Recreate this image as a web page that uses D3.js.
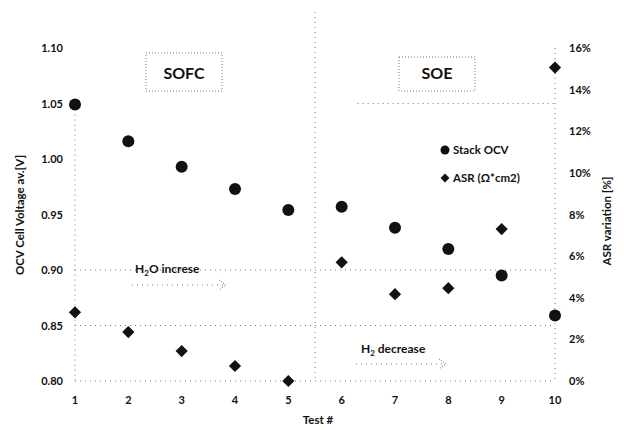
<!DOCTYPE html>
<html lang="en">
<head>
  <meta charset="UTF-8">
  <title>OCV and ASR per test</title>
  <script src="https://cdn.jsdelivr.net/npm/d3@7"></script>
  <style>
    * { margin: 0; padding: 0; box-sizing: border-box; }
    body { background: #fff; }
    svg { display: block; font-family: 'Lato', 'Open Sans', sans-serif; }
    .tick-label { font-size: 11px; fill: #111; font-weight: bold; }
    .axis-title { font-size: 11.5px; fill: #111; font-weight: bold; }
    .grid { stroke: #777; stroke-width: 1; stroke-dasharray: 1,4; fill: none; }
    .box { stroke: #777; stroke-width: 1; stroke-dasharray: 1,2; fill: none; }
    .mode { font-size: 16px; fill: #111; font-weight: bold; }
    .note { font-size: 12px; fill: #111; font-weight: bold; }
    .legend { font-size: 11.5px; fill: #111; font-weight: bold; }
  </style>
</head>
<body>
  <svg width="624" height="430"></svg>
  <script>
    // data
    var tests = [1, 2, 3, 4, 5, 6, 7, 8, 9, 10];
    var stackOcv = [1.049, 1.016, 0.993, 0.973, 0.954, 0.957, 0.938, 0.919, 0.895, 0.859];
    var asrVariation = [0.033, 0.0235, 0.0144, 0.0072, 0.0, 0.057, 0.0417, 0.0446, 0.073, 0.1506];
    var leftTicks = [0.80, 0.85, 0.90, 0.95, 1.00, 1.05, 1.10];
    var rightTicks = [0, 0.02, 0.04, 0.06, 0.08, 0.10, 0.12, 0.14, 0.16];
    var gridValues = [0.85, 0.90];

    var svg = d3.select("svg");
    var ink = "#111";

    var x = d3.scaleLinear().domain([1, 10]).range([75, 555]);
    var yL = d3.scaleLinear().domain([0.80, 1.10]).range([381, 48]);
    var yR = d3.scaleLinear().domain([0, 0.16]).range([381, 48]);

    // dotted frame + grid
    svg.selectAll(".hgrid").data(gridValues).enter().append("line")
      .attr("class", "grid")
      .attr("x1", x(1)).attr("x2", x(10))
      .attr("y1", d => yL(d)).attr("y2", d => yL(d));
    svg.append("line").attr("class", "grid")
      .attr("x1", x(6.3)).attr("x2", x(10)).attr("y1", yL(1.05)).attr("y2", yL(1.05));
    svg.append("line").attr("class", "grid")
      .attr("x1", x(1)).attr("x2", x(10)).attr("y1", yL(0.80)).attr("y2", yL(0.80));
    svg.append("line").attr("class", "grid")
      .attr("x1", x(1)).attr("x2", x(1)).attr("y1", yL(1.04)).attr("y2", yL(0.80));
    svg.append("line").attr("class", "grid")
      .attr("x1", x(10)).attr("x2", x(10)).attr("y1", yL(1.10)).attr("y2", yL(0.80));
    svg.append("line").attr("class", "grid")
      .attr("x1", x(5.5)).attr("x2", x(5.5)).attr("y1", 12).attr("y2", yL(0.80));

    // left axis labels
    svg.selectAll(".lt").data(leftTicks).enter().append("text")
      .attr("class", "tick-label")
      .attr("x", 63).attr("y", d => yL(d) + 4)
      .attr("text-anchor", "end")
      .text(d => d3.format(".2f")(d));

    // right axis labels
    svg.selectAll(".rt").data(rightTicks).enter().append("text")
      .attr("class", "tick-label")
      .attr("x", 569).attr("y", d => yR(d) + 4)
      .text(d => d3.format(".0%")(d));

    // x axis labels
    svg.selectAll(".xt").data(tests).enter().append("text")
      .attr("class", "tick-label")
      .attr("x", d => x(d)).attr("y", 404)
      .attr("text-anchor", "middle")
      .text(d => d);

    svg.append("text").attr("class", "axis-title")
      .attr("x", 318).attr("y", 424).attr("text-anchor", "middle")
      .text("Test #");
    svg.append("text").attr("class", "axis-title")
      .attr("transform", "translate(24,215) rotate(-90)")
      .attr("text-anchor", "middle")
      .text("OCV Cell Voltage av.[V]");
    svg.append("text").attr("class", "axis-title")
      .attr("transform", "translate(611,221) rotate(-90)")
      .attr("text-anchor", "middle")
      .text("ASR variation [%]");

    // mode boxes
    [["SOFC", 146, 53], ["SOE", 399, 57]].forEach(function (b) {
      svg.append("rect").attr("class", "box")
        .attr("x", b[1]).attr("y", b[2]).attr("width", 76).attr("height", 91 - b[2]);
      svg.append("text").attr("class", "mode")
        .attr("x", b[1] + 38).attr("y", 79).attr("text-anchor", "middle")
        .text(b[0]);
    });

    // annotations with dotted arrows
    function arrow(x1, x2, yy) {
      svg.append("line").attr("class", "grid")
        .attr("stroke-dasharray", "1,1.5")
        .attr("x1", x1).attr("x2", x2).attr("y1", yy).attr("y2", yy);
      svg.append("path").attr("fill", "none").attr("stroke", "#777")
        .attr("stroke-dasharray", "1,1.5")
        .attr("d", "M" + (x2 - 7) + "," + (yy - 5) + "L" + x2 + "," + yy + "L" + (x2 - 7) + "," + (yy + 5));
    }
    var t1 = svg.append("text").attr("class", "note").attr("x", 135).attr("y", 273);
    t1.append("tspan").text("H");
    t1.append("tspan").attr("font-size", "8px").attr("dy", 3).text("2");
    t1.append("tspan").attr("dy", -3).text("O increse");
    arrow(132, 226, 285);

    var t2 = svg.append("text").attr("class", "note").attr("x", 361).attr("y", 353);
    t2.append("tspan").text("H");
    t2.append("tspan").attr("font-size", "8px").attr("dy", 3).text("2");
    t2.append("tspan").attr("dy", -3).text(" decrease");
    arrow(356, 446, 364);

    // series
    var diamond = d3.symbol().type(d3.symbolDiamond2);
    svg.selectAll(".ocv").data(tests).enter().append("circle")
      .attr("cx", d => x(d)).attr("cy", (d, i) => yL(stackOcv[i]))
      .attr("r", 6).attr("fill", ink);
    svg.selectAll(".asr").data(tests).enter().append("path")
      .attr("d", diamond.size(95)())
      .attr("transform", (d, i) => "translate(" + x(d) + "," + yR(asrVariation[i]) + ")")
      .attr("fill", ink);

    // legend
    svg.append("circle").attr("cx", 445).attr("cy", 150).attr("r", 4.5).attr("fill", ink);
    svg.append("text").attr("class", "legend").attr("x", 453).attr("y", 154).text("Stack OCV");
    svg.append("path").attr("d", diamond.size(50)())
      .attr("transform", "translate(445,178)").attr("fill", ink);
    svg.append("text").attr("class", "legend").attr("x", 453).attr("y", 182).text("ASR (Ω*cm2)");
  </script>
</body>
</html>
